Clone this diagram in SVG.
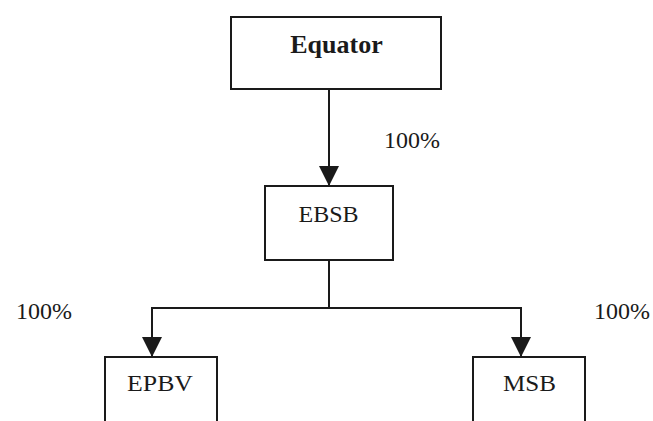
<svg xmlns="http://www.w3.org/2000/svg" width="653" height="421" viewBox="0 0 653 421">
<defs>
<style>
.box{fill:#fff;stroke:#1a1a1a;stroke-width:2}
.t{font-family:"Liberation Serif","Times New Roman",serif;font-size:24px;fill:#1a1a1a;text-anchor:middle}
.b{font-weight:bold;font-size:26px}
.ln{fill:none;stroke:#1a1a1a;stroke-width:2}
</style>
<marker id="ah" viewBox="0 0 20 20" refX="20" refY="10" markerWidth="20" markerHeight="20" markerUnits="userSpaceOnUse" orient="auto">
<path d="M0,0 L20,10 L0,20 Z" fill="#1a1a1a"/>
</marker>
</defs>
<rect width="653" height="421" fill="#fff"/>
<g id="connectors">
<line class="ln" x1="329" y1="89" x2="329" y2="186" marker-end="url(#ah)"/>
<line class="ln" x1="329" y1="260" x2="329" y2="308"/>
<path class="ln" d="M152,357 V308 H521 V357" />
<line class="ln" x1="152" y1="308" x2="152" y2="357" marker-end="url(#ah)"/>
<line class="ln" x1="521" y1="308" x2="521" y2="357" marker-end="url(#ah)"/>
<text class="t" x="412" y="148">100%</text>
<text class="t" x="44" y="319">100%</text>
<text class="t" x="622" y="319">100%</text>
</g>
<g id="equator">
<rect class="box" x="231" y="17" width="210" height="72"/>
<text class="t b" x="336.5" y="53">Equator</text>
</g>
<g id="ebsb">
<rect class="box" x="265" y="186" width="128" height="74"/>
<text class="t" x="328.5" y="222" font-size="25">EBSB</text>
</g>
<g id="epbv">
<rect class="box" x="105" y="357" width="112" height="80"/>
<text class="t" x="160" y="391" textLength="66" lengthAdjust="spacingAndGlyphs">EPBV</text>
</g>
<g id="msb">
<rect class="box" x="473" y="357" width="112" height="80"/>
<text class="t" x="529.5" y="391" textLength="53" lengthAdjust="spacingAndGlyphs">MSB</text>
</g>
</svg>
